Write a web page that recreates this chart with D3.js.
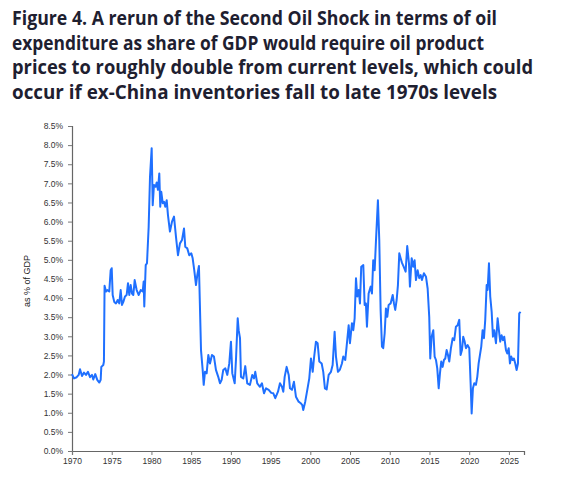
<!DOCTYPE html>
<html>
<head>
<meta charset="utf-8">
<style>
  body { margin: 0; background: #fff; }
  svg { display: block; }
</style>
</head>
<body>
<svg width="575" height="480"></svg>
<script src="https://d3js.org/d3.v7.min.js"></script>
<script>

var titleLines = [
  "Figure 4. A rerun of the Second Oil Shock in terms of oil",
  "expenditure as share of GDP would require oil product",
  "prices to roughly double from current levels, which could",
  "occur if ex-China inventories fall to late 1970s levels"
];
var titleWidths = [485, 472, 521, 485];

// decimal year, oil expenditure as % of GDP
var years = [
  1970.0, 1970.25, 1970.59, 1970.84, 1971.01, 1971.26, 1971.51, 1971.76, 1972.01, 1972.27,
  1972.52, 1972.68, 1972.93, 1973.18, 1973.44, 1973.61, 1973.69, 1973.94, 1974.02, 1974.1,
  1974.28, 1974.44, 1974.69, 1974.87, 1975.0, 1975.12, 1975.32, 1975.54, 1975.75, 1975.95,
  1976.13, 1976.29, 1976.46, 1976.67, 1976.88, 1977.05, 1977.21, 1977.39, 1977.55, 1977.72,
  1977.89, 1978.14, 1978.4, 1978.65, 1978.9, 1979.02, 1979.1, 1979.28, 1979.44, 1979.65,
  1979.82, 1980.03, 1980.16, 1980.32, 1980.53, 1980.66, 1980.82, 1980.99, 1981.11, 1981.24,
  1981.42, 1981.58, 1981.74, 1981.92, 1982.08, 1982.33, 1982.59, 1982.84, 1983.09, 1983.34,
  1983.59, 1983.85, 1984.1, 1984.26, 1984.51, 1984.76, 1985.02, 1985.19, 1985.39, 1985.61,
  1985.77, 1985.98, 1986.24, 1986.45, 1986.58, 1986.74, 1986.95, 1987.16, 1987.37, 1987.62,
  1987.87, 1988.12, 1988.41, 1988.63, 1988.84, 1989.04, 1989.3, 1989.55, 1989.8, 1990.01,
  1990.18, 1990.48, 1990.64, 1990.86, 1990.98, 1991.15, 1991.27, 1991.56, 1991.81, 1992.06,
  1992.4, 1992.69, 1992.91, 1993.07, 1993.32, 1993.66, 1993.91, 1994.17, 1994.42, 1994.76,
  1995.08, 1995.34, 1995.59, 1995.93, 1996.18, 1996.43, 1996.6, 1996.77, 1997.02, 1997.28,
  1997.44, 1997.69, 1997.94, 1998.19, 1998.53, 1998.79, 1998.99, 1999.11, 1999.36, 1999.62,
  1999.87, 2000.08, 2000.3, 2000.46, 2000.71, 2000.92, 2001.13, 2001.43, 2001.63, 2001.84,
  2002.06, 2002.31, 2002.6, 2002.81, 2003.06, 2003.23, 2003.48, 2003.73, 2003.98, 2004.15,
  2004.4, 2004.57, 2004.83, 2004.99, 2005.24, 2005.41, 2005.58, 2005.75, 2005.91, 2006.09,
  2006.25, 2006.41, 2006.67, 2006.84, 2007.0, 2007.13, 2007.34, 2007.6, 2007.76, 2007.92,
  2008.1, 2008.26, 2008.51, 2008.68, 2008.85, 2009.02, 2009.18, 2009.36, 2009.52, 2009.69,
  2009.86, 2010.11, 2010.37, 2010.53, 2010.69, 2010.87, 2011.03, 2011.2, 2011.37, 2011.54,
  2011.79, 2012.0, 2012.2, 2012.42, 2012.54, 2012.76, 2012.96, 2013.13, 2013.3, 2013.51,
  2013.71, 2013.89, 2014.05, 2014.3, 2014.56, 2014.77, 2014.97, 2015.1, 2015.27, 2015.48,
  2015.65, 2015.82, 2015.98, 2016.16, 2016.32, 2016.48, 2016.66, 2016.82, 2016.99, 2017.16,
  2017.33, 2017.49, 2017.7, 2017.92, 2018.12, 2018.33, 2018.54, 2018.75, 2018.92, 2019.09,
  2019.25, 2019.43, 2019.59, 2019.81, 2020.01, 2020.18, 2020.31, 2020.47, 2020.64, 2020.85,
  2021.02, 2021.19, 2021.35, 2021.52, 2021.69, 2021.86, 2022.02, 2022.2, 2022.32, 2022.49,
  2022.65, 2022.83, 2022.99, 2023.15, 2023.37, 2023.58, 2023.74, 2023.91, 2024.08, 2024.25,
  2024.41, 2024.63, 2024.79, 2024.97, 2025.13, 2025.29, 2025.47, 2025.63, 2025.8, 2025.97,
  2026.14, 2026.3, 2026.47
];
var share = [
  2.01, 1.90, 1.93, 1.99, 2.14, 1.96, 2.05, 1.99, 2.07, 1.93,
  1.99, 1.87, 2.01, 1.86, 1.79, 1.86, 2.20, 2.25, 2.34, 4.32,
  4.17, 4.21, 4.17, 4.73, 4.78, 4.08, 3.90, 3.86, 3.95, 3.86,
  4.21, 3.82, 3.90, 4.04, 4.08, 4.39, 4.08, 4.34, 4.12, 4.08,
  4.47, 4.21, 4.08, 4.21, 4.17, 4.43, 3.78, 4.86, 4.91, 5.86,
  7.17, 7.92, 6.43, 6.96, 6.91, 7.02, 6.83, 7.26, 6.39, 6.78,
  6.48, 6.52, 6.39, 6.56, 6.17, 5.74, 6.00, 6.13, 5.60, 5.12,
  5.43, 5.52, 5.82, 5.34, 5.30, 5.12, 5.17, 5.04, 4.73, 4.34,
  4.60, 4.84, 2.64, 2.12, 1.73, 2.07, 2.03, 2.51, 2.29, 2.51,
  2.47, 2.12, 1.94, 1.77, 1.86, 2.12, 2.16, 1.99, 2.29, 2.86,
  2.03, 1.77, 2.38, 3.47, 3.16, 2.95, 1.94, 1.90, 2.22, 1.77,
  1.73, 1.99, 1.90, 2.07, 1.77, 1.68, 1.77, 1.51, 1.64, 1.60,
  1.52, 1.51, 1.38, 1.55, 1.77, 1.68, 1.55, 1.94, 2.20, 1.99,
  1.64, 1.60, 1.81, 1.42, 1.29, 1.25, 1.20, 1.07, 1.29, 1.60,
  1.90, 2.42, 2.07, 2.42, 2.86, 2.82, 2.34, 2.29, 2.07, 1.64,
  1.61, 1.99, 2.07, 2.25, 3.12, 2.47, 2.07, 2.13, 2.29, 2.47,
  2.38, 2.73, 3.29, 2.82, 3.34, 3.16, 3.47, 4.52, 4.04, 4.21,
  3.86, 4.82, 4.86, 3.82, 3.86, 3.25, 4.12, 4.30, 4.12, 4.99,
  4.73, 5.47, 6.56, 5.52, 3.69, 2.73, 2.69, 3.08, 3.73, 3.51,
  3.82, 3.86, 4.08, 3.86, 3.69, 3.95, 4.34, 5.17, 5.04, 4.92,
  4.80, 4.69, 5.36, 4.91, 4.30, 5.04, 4.82, 4.99, 4.47, 4.73,
  4.52, 4.60, 4.47, 4.65, 4.56, 4.25, 3.51, 2.42, 2.99, 3.16,
  2.47, 2.38, 2.16, 1.64, 2.03, 2.34, 2.20, 2.38, 2.42, 2.64,
  2.51, 2.34, 2.69, 2.95, 2.90, 3.25, 3.29, 3.43, 2.51, 2.64,
  2.99, 2.86, 2.69, 2.77, 2.69, 1.77, 0.98, 1.64, 1.77, 1.73,
  1.94, 2.29, 2.51, 2.73, 3.16, 2.95, 3.43, 4.34, 4.21, 4.91,
  4.04, 3.64, 2.99, 3.16, 2.82, 3.47, 3.16, 2.86, 3.03, 2.90,
  2.99, 2.64, 2.55, 2.69, 2.29, 2.47, 2.38, 2.42, 2.29, 2.12,
  2.29, 3.60, 3.64
];

var yTicks = d3.range(0, 8.51, 0.5);
var xTicks = d3.range(1970, 2026, 5);

var svg = d3.select("svg");

var x = d3.scaleLinear().domain([1970, 2026.9]).range([72, 524]),
    y = d3.scaleLinear().domain([0, 8.5]).range([451, 126]);

// title
var title = svg.append("g")
    .attr("font-family", "'Open Sans', sans-serif")
    .attr("font-weight", 700)
    .attr("font-size", 19)
    .attr("fill", "#1e2030");

title.selectAll("text")
  .data(titleLines)
  .enter().append("text")
    .attr("x", 12)
    .attr("y", function(d, i) { return 25 + i * 24.6; })
    .attr("textLength", function(d, i) { return titleWidths[i]; })
    .attr("lengthAdjust", "spacingAndGlyphs")
    .text(function(d) { return d; });

// axes
var yAxis = svg.append("g")
    .attr("transform", "translate(72,0)")
    .call(d3.axisLeft(y).tickValues(yTicks).tickSize(4).tickPadding(5)
      .tickFormat(function(d) { return d.toFixed(1) + "%"; }));

var xAxis = svg.append("g")
    .attr("transform", "translate(0,451)")
    .call(d3.axisBottom(x).tickValues(xTicks).tickSize(4).tickPadding(3)
      .tickFormat(d3.format("d")));

[yAxis, xAxis].forEach(function(g) {
  g.select(".domain").attr("stroke", "#666").attr("stroke-width", 1.2);
  g.selectAll(".tick line").attr("stroke", "#777");
  g.selectAll(".tick text")
      .attr("fill", "#333")
      .attr("font-family", "'Liberation Sans', Arial, sans-serif")
      .attr("font-size", 8.5);
});

svg.append("text")
    .attr("transform", "translate(30,281) rotate(-90)")
    .attr("text-anchor", "middle")
    .attr("font-family", "'Liberation Sans Narrow', 'Liberation Sans', sans-serif")
    .attr("font-size", 9)
    .attr("fill", "#222")
    .text("as % of GDP");

// series
var points = years.map(function(d, i) { return [d, share[i]]; });

var line = d3.line()
    .x(function(d) { return x(d[0]); })
    .y(function(d) { return y(d[1]); });

svg.append("path")
    .datum(points)
    .attr("fill", "none")
    .attr("stroke", "#1f70ff")
    .attr("stroke-width", 2)
    .attr("stroke-linejoin", "round")
    .attr("d", line);

</script>
</body>
</html>
